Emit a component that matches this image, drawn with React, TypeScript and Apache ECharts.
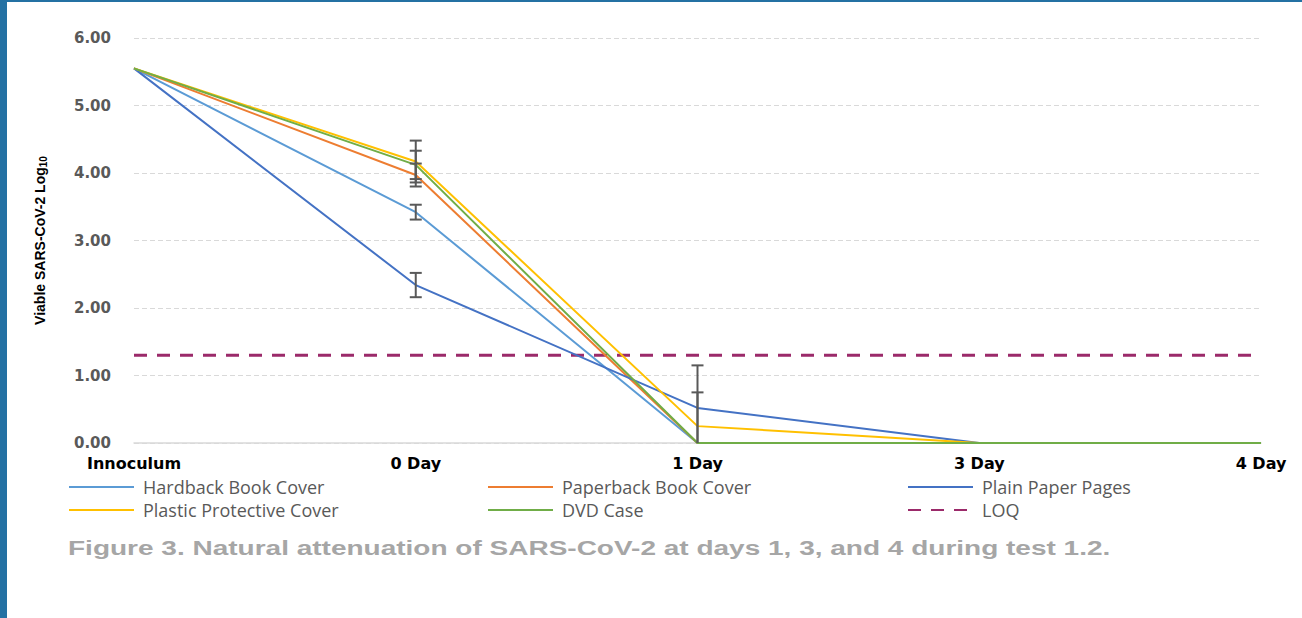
import React, { useEffect, useRef } from "react";
import * as echarts from "echarts";

const categories = ["Innoculum", "0 Day", "1 Day", "3 Day", "4 Day"];
const hardback = [5.55, 3.42, 0, 0, 0];
const paperback = [5.55, 3.97, 0, 0, 0];
const plainPaper = [5.55, 2.34, 0.52, 0, 0];
const plastic = [5.55, 4.17, 0.25, 0, 0];
const dvd = [5.55, 4.12, 0, 0, 0];
const loq = [1.3, 1.3, 1.3, 1.3, 1.3];

const hardbackErr = [0, 0.11, 0, 0, 0];
const paperbackErr = [0, 0.17, 0, 0, 0];
const plainPaperErr = [0, 0.18, 0.63, 0, 0];
const plasticErr = [0, 0.31, 0.5, 0, 0];
const dvdErr = [0, 0.21, 0, 0, 0];

const yTicks = [0, 1, 2, 3, 4, 5, 6];

const caption =
  "Figure 3. Natural attenuation of SARS-CoV-2 at days 1, 3, and 4 during test 1.2.";

export default function App() {
  const ref = useRef<HTMLDivElement>(null);
  useEffect(() => {
    if (!ref.current) return;
    const chart = echarts.init(ref.current, null, { renderer: "svg" });

    const errData: number[][] = [];
    const allVals = [hardback, paperback, plainPaper, plastic, dvd];
    const allErrs = [hardbackErr, paperbackErr, plainPaperErr, plasticErr, dvdErr];
    allVals.forEach((vals, s) => {
      vals.forEach((v, i) => {
        const e = allErrs[s][i];
        if (e > 0) errData.push([i, v, e]);
      });
    });

    const lineSeries = (name: string, data: number[], color: string) => ({
      name,
      type: "line",
      data,
      symbol: "none",
      lineStyle: { color, width: 2 },
      itemStyle: { color },
      z: 3,
    });

    const legendCommon = {
      orient: "vertical",
      top: 478,
      padding: 0,
      itemWidth: 65,
      itemHeight: 14,
      itemGap: 5,
      itemStyle: { opacity: 0 },
      textStyle: {
        fontFamily: "Open Sans",
        fontSize: 18,
        color: "#595959",
        padding: [0, 0, 0, 4],
      },
    };

    chart.setOption({
      animation: false,
      backgroundColor: "#ffffff",
      grid: { left: 134, right: 41, top: 38, height: 405 },
      xAxis: {
        type: "category",
        data: categories,
        boundaryGap: false,
        axisLine: { lineStyle: { color: "#D9D9D9", width: 1.5 } },
        axisTick: { show: false },
        axisLabel: {
          fontFamily: "DejaVu Sans",
          fontWeight: "bold",
          fontSize: 16,
          color: "#000000",
          margin: 12,
        },
      },
      yAxis: {
        type: "value",
        min: yTicks[0],
        max: yTicks[yTicks.length - 1],
        interval: 1,
        name: "{a|Viable SARS-CoV-2 Log}{b|10}",
        nameLocation: "middle",
        nameGap: 86,
        nameTextStyle: {
          rich: {
            a: {
              fontFamily: "Liberation Sans",
              fontSize: 14,
              color: "#000000",
              fontWeight: "bold",
            },
            b: {
              fontFamily: "Liberation Sans",
              fontSize: 10,
              color: "#000000",
              fontWeight: "bold",
              padding: [7, 0, 0, 0],
            },
          },
        },
        axisLine: { show: false },
        axisTick: { show: false },
        splitLine: { lineStyle: { color: "#D9D9D9", type: [5, 3], width: 1 } },
        axisLabel: {
          fontFamily: "DejaVu Sans",
          fontWeight: "bold",
          fontSize: 15,
          color: "#595959",
          margin: 23,
          formatter: (v: number) => v.toFixed(2),
        },
      },
      legend: [
        { ...legendCommon, left: 68, data: ["Hardback Book Cover", "Plastic Protective Cover"] },
        { ...legendCommon, left: 487, data: ["Paperback Book Cover", "DVD Case"] },
        { ...legendCommon, left: 907, data: ["Plain Paper Pages", "LOQ"] },
      ],
      graphic: [
        { type: "rect", left: 0, top: 0, shape: { width: 7, height: 618 }, style: { fill: "#2471A3" } },
        { type: "rect", left: 0, top: 0, shape: { width: 1302, height: 2 }, style: { fill: "#2471A3" } },
        {
          type: "text",
          x: 68,
          y: 548,
          scaleX: 1.4,
          style: {
            text: caption,
            x: 0,
            y: 0,
            align: "left",
            verticalAlign: "middle",
            fontFamily: "Liberation Sans",
            fontWeight: "bold",
            fontSize: 20,
            fill: "#A6A6A6",
          },
        },
      ],
      series: [
        {
          name: "LOQ",
          type: "line",
          data: loq,
          symbol: "none",
          lineStyle: { color: "#9B2A6A", width: 3, type: [13, 10] },
          itemStyle: { color: "#9B2A6A" },
          z: 2,
        },
        lineSeries("Hardback Book Cover", hardback, "#5B9BD5"),
        lineSeries("Paperback Book Cover", paperback, "#ED7D31"),
        lineSeries("Plain Paper Pages", plainPaper, "#4472C4"),
        lineSeries("Plastic Protective Cover", plastic, "#FFC000"),
        lineSeries("DVD Case", dvd, "#70AD47"),
        {
          name: "errors",
          type: "custom",
          data: errData,
          z: 4,
          renderItem: (params: any, api: any) => {
            const x = api.value(0);
            const v = api.value(1);
            const e = api.value(2);
            const lo = Math.max(0, v - e);
            const top = api.coord([x, v + e]);
            const bot = api.coord([x, lo]);
            const cap = 6;
            const style = { stroke: "#595959", lineWidth: 2 };
            const children: any[] = [
              { type: "line", shape: { x1: top[0], y1: top[1], x2: bot[0], y2: bot[1] }, style },
              { type: "line", shape: { x1: top[0] - cap, y1: top[1], x2: top[0] + cap, y2: top[1] }, style },
            ];
            if (v - e >= 0) {
              children.push({ type: "line", shape: { x1: bot[0] - cap, y1: bot[1], x2: bot[0] + cap, y2: bot[1] }, style });
            }
            return { type: "group", children };
          },
        },
      ],
    });
    return () => chart.dispose();
  }, []);
  return (
    <div
      ref={ref}
      style={{ position: "fixed", left: 0, top: 0, width: 1302, height: 618, background: "#fff" }}
    />
  );
}
